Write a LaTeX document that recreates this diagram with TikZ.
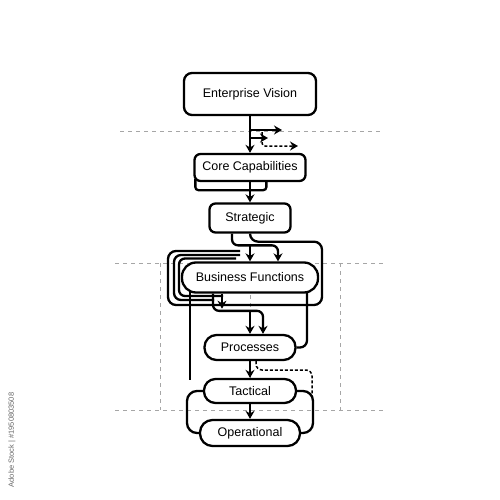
\documentclass[tikz,border=0pt]{standalone}
\usepackage{fontspec}
\setmainfont{Liberation Sans}
\usetikzlibrary{arrows.meta,calc}
\begin{document}
\begin{tikzpicture}[x=1pt,y=-1pt,
  lbl/.style={font=\fontsize{12.5}{14}\selectfont},
  box/.style={lbl, draw, fill=white, line width=2.3pt, rounded corners=8pt, inner sep=0pt},
  pill/.style={lbl, draw, fill=white, line width=2.3pt, inner sep=0pt},
  wire/.style={line width=2.3pt, rounded corners=6pt},
  tip/.style={-{Stealth[length=8pt,width=9pt]}},
  arr/.style={wire, tip},
  dwire/.style={line width=1.5pt, rounded corners=6pt, dash pattern=on 3pt off 2pt},
  guide/.style={black!35, dash pattern=on 4pt off 4pt, line width=0.6pt}]
\useasboundingbox (0,0) rectangle (500,500);

% guide lines
\draw[guide] (120,131) -- (382,131);
\draw[guide] (115,263) -- (384,263);
\draw[guide] (115,410) -- (384,410);
\draw[guide] (160,263) -- (160,410);
\draw[guide] (340,263) -- (340,410);
\draw[guide] (250,263) -- (250,410);

% watermark id
\node[font=\fontsize{7.5}{8}\selectfont, text=black!60, rotate=90] (wm) at (12,440) {Adobe Stock | \#1950803508};

% nodes
\node[box, minimum width=132pt, minimum height=42pt] (ev) at (250,94) {Enterprise Vision};
\node[box, rounded corners=6pt, minimum width=111pt, minimum height=27pt] (cc) at (250,167.5) {Core Capabilities};
\node[box, rounded corners=6pt, minimum width=81pt, minimum height=29pt] (str) at (250,218) {Strategic};
\node[pill, rounded corners=14pt, minimum width=136pt, minimum height=30pt] (bf) at (250,277.5) {Business Functions};
\node[pill, rounded corners=12pt, minimum width=91pt, minimum height=25pt] (pr) at (250,347.5) {Processes};
\node[pill, rounded corners=11.5pt, minimum width=92pt, minimum height=24pt] (tac) at (250,391) {Tactical};
\node[pill, rounded corners=12.5pt, minimum width=100pt, minimum height=26pt] (op) at (250,433) {Operational};

% Enterprise Vision -> Core Capabilities
\draw[arr] (ev.south) -- (cc.north);
\coordinate (e1) at (250,130);
\coordinate (e1t) at (282,130);
\coordinate (e2) at (250,138);
\coordinate (e2t) at (268,138);
\coordinate (d0) at (262,132);
\coordinate (d1) at (298,146);
\draw[arr] (e1) -- (e1t);
\draw[arr] (e2) -- (e2t);
\draw[dwire, tip, rounded corners=3pt] (d0) |- (d1);

% Core Capabilities back edge
\draw[wire, rounded corners=3pt] ($(cc.south west)+(2,-3)$) -- ($(cc.south west)+(2,8)$) -- ($(cc.south west)+(73,8)$) -- ($(cc.south west)+(73,0)$);
\draw[arr] (cc.south) -- (str.north);

% Strategic -> Business Functions
\draw[arr] ($(str.south)+(-18,0)$) |- ($(bf.north)+(28,-16)$) -- ($(bf.north)+(28,0)$);
\draw[arr] ($(bf.north)+(0,-16)$) -- (bf.north);
\draw[wire, rounded corners=8pt] (str.south) -- ++(0,8) -| (322,305) -| (168,251) -- (240,251);
\draw[wire, rounded corners=7pt] (240,255) -- (174,255) |- (214,300);
\draw[wire, rounded corners=6pt] (236,258.5) -- (179,258.5) |- (223,296);

% Business Functions -> Processes
\draw[wire] ($(bf.south)+(-60,-2)$) -- (190,380);
\draw[arr] ($(bf.south)+(-37,0)$) |- ($(pr.north)+(13,-23)$) -- ($(pr.north)+(13,0)$);
\draw[arr] ($(pr.north)+(0,-23)$) -- (pr.north);
\draw[arr] ($(bf.south)+(-28,0)$) -- ($(bf.south)+(-28,15)$);
\draw[wire, rounded corners=7pt] ($(bf.south)+(57,-1)$) |- (pr.east);

% Processes -> Tactical
\draw[arr] (pr.south) -- (tac.north);
\draw[dwire] ($(pr.south)+(6,0)$) |- (312,370) -- (312,397);

% Tactical -> Operational
\draw[arr] (tac.south) -- (op.north);
\draw[wire, rounded corners=10pt] (tac.east) -- (313,391) -- (313,433) -- (op.east);
\draw[wire, rounded corners=10pt] (tac.west) -- (187,391) -- (187,433) -- (op.west);
\end{tikzpicture}
\end{document}
